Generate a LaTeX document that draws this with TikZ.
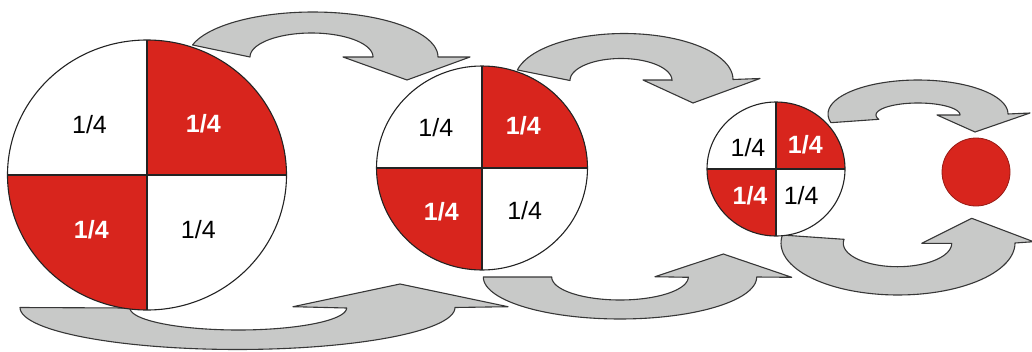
\documentclass[tikz,border=0pt]{standalone}
\usepackage{fontspec}
\setmainfont{Liberation Sans}
\usetikzlibrary{shapes.geometric}
\definecolor{qred}{RGB}{216,37,29}
\definecolor{agray}{RGB}{200,201,200}
\definecolor{aedge}{RGB}{55,55,55}
\definecolor{cedge}{RGB}{35,35,35}
\begin{document}
\begin{tikzpicture}[x=1pt,y=-1pt,
  arr/.style={fill=agray, draw=aedge, line width=1.1pt, line join=round},
  quad/.style={ellipse, draw=cedge, line width=1.1pt, inner sep=0pt, outer sep=0pt, fill=white,
    path picture={
      \fill[qred] (path picture bounding box.center) rectangle (path picture bounding box.north east);
      \fill[qred] (path picture bounding box.center) rectangle (path picture bounding box.south west);
      \draw[cedge, line width=1.1pt] (path picture bounding box.north) -- (path picture bounding box.south)
            (path picture bounding box.west) -- (path picture bounding box.east);
    }},
  wl/.style={font=\fontsize{25}{30}\selectfont, text=black, inner sep=0pt},
  rl/.style={font=\fontsize{25}{30}\selectfont\bfseries, text=white, inner sep=0pt},
  psamp/.style={samples=60}
]
\useasboundingbox (0,0) rectangle (1032,351);
\clip (0,0) rectangle (1032,351);

% top arrows
\draw[arr] plot[psamp, domain=-164.5:0] ({313+125*cos(\x)},{57+45*sin(\x)})
  -- (470,57) -- (407,80) -- (343,57) -- (373,57)
  -- plot[psamp, domain=0:-180] ({311.5+61.5*cos(\x)},{57+24*sin(\x)}) -- cycle;
\draw[arr] plot[psamp, domain=-168:0] ({624+109*cos(\x)},{79.5+46*sin(\x)})
  -- (760,78.5) -- (693,103) -- (643,80) -- (672,80)
  -- plot[psamp, domain=0:-180] ({621+51*cos(\x)},{80.5+22*sin(\x)}) -- cycle;
\draw[arr] plot[psamp, domain=-194.8:0] ({918+90*cos(\x)},{114+34*sin(\x)})
  -- (1030,113) -- (975,132) -- (937,115) -- (960,115)
  -- plot[psamp, domain=0:-201] ({918+42*cos(\x)},{115+12*sin(\x)}) -- cycle;

% bottom arrows
\draw[arr] plot[psamp, domain=180:0] ({237.5+217.5*cos(\x)},{307.5+42*sin(\x)})
  -- (508,306.7) -- (400,284) -- (293,306.7) -- (346.7,308)
  -- plot[psamp, domain=0:180] ({238.3+108.3*cos(\x)},{308+22*sin(\x)}) -- cycle;
\draw[arr] plot[psamp, domain=180:0] ({620+136.7*cos(\x)},{277+42*sin(\x)})
  -- (791.7,277.3) -- (723.3,254) -- (655,276.7) -- (688.3,277.3)
  -- plot[psamp, domain=0:180] ({620+68.3*cos(\x)},{277+23*sin(\x)}) -- cycle;
\draw[arr] plot[psamp, domain=188.8:0] ({898+117*cos(\x)},{243+52*sin(\x)})
  -- (1033.5,241.7) -- (971.7,218.3) -- (921.7,243.3) -- (951.7,243.3)
  -- plot[psamp, domain=0:189.8] ({897.5+54.2*cos(\x)},{243.3+23.4*sin(\x)}) -- cycle;

% circles
\node[quad, minimum width=279pt, minimum height=270pt] (c1) at (147,175) {};
\node[quad, minimum width=211pt, minimum height=204pt] (c2) at (482,168) {};
\node[quad, minimum width=138pt, minimum height=134pt] (c3) at (776,169) {};
\node[circle, fill=qred, draw=qred!70!black, line width=0.8pt, inner sep=0pt, minimum size=68pt] (c4) at (976,172) {};

% labels
\node[wl] (c1tl) at (89.5,124.5) {1/4};
\node[rl] (c1tr) at (203.3,124) {1/4};
\node[rl] (c1bl) at (91.3,230) {1/4};
\node[wl] (c1br) at (198.3,230) {1/4};

\node[wl] (c2tl) at (435.8,127.8) {1/4};
\node[rl] (c2tr) at (523.3,125.8) {1/4};
\node[rl] (c2bl) at (441.3,211.2) {1/4};
\node[wl] (c2br) at (524.7,210.8) {1/4};

\node[wl] (c3tl) at (748,147.7) {1/4};
\node[rl] (c3tr) at (805.3,145) {1/4};
\node[rl] (c3bl) at (750,195.3) {1/4};
\node[wl] (c3br) at (801.2,195.3) {1/4};
\end{tikzpicture}
\end{document}
